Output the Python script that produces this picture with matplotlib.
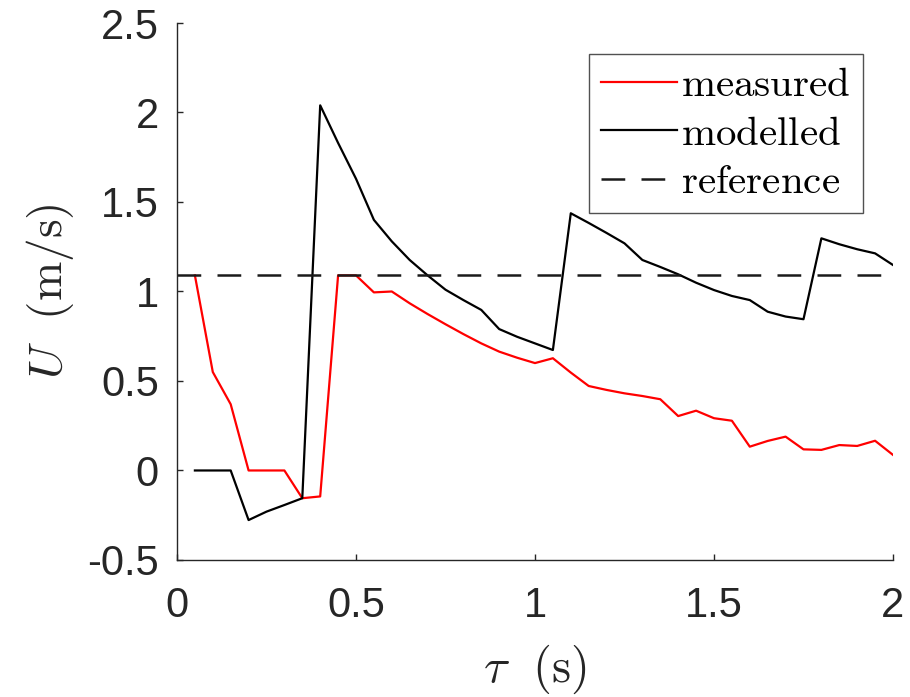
import numpy as np
import matplotlib
matplotlib.use('Agg')
import matplotlib.pyplot as plt

# time axis, 0.05 s steps
tau = [0.05, 0.10, 0.15, 0.20, 0.25, 0.30, 0.35, 0.40, 0.45, 0.50,
       0.55, 0.60, 0.65, 0.70, 0.75, 0.80, 0.85, 0.90, 0.95, 1.00,
       1.05, 1.10, 1.15, 1.20, 1.25, 1.30, 1.35, 1.40, 1.45, 1.50,
       1.55, 1.60, 1.65, 1.70, 1.75, 1.80, 1.85, 1.90, 1.95, 2.00]

measured = [1.09, 0.55, 0.37, 0.00, 0.00, 0.00, -0.155, -0.145, 1.09, 1.09,
            0.995, 1.00, 0.934, 0.874, 0.817, 0.762, 0.71, 0.664, 0.63, 0.60,
            0.627, 0.547, 0.472, 0.45, 0.431, 0.416, 0.398, 0.304, 0.334, 0.292,
            0.278, 0.133, 0.165, 0.189, 0.118, 0.115, 0.142, 0.137, 0.166, 0.087]

modelled = [0.0, 0.0, 0.0, -0.277, -0.23, -0.193, -0.155, 2.04, 1.83, 1.63,
            1.40, 1.28, 1.176, 1.09, 1.01, 0.952, 0.897, 0.79, 0.747, 0.71,
            0.673, 1.437, 1.383, 1.327, 1.269, 1.176, 1.137, 1.096, 1.049, 1.008,
            0.975, 0.952, 0.887, 0.86, 0.845, 1.297, 1.264, 1.236, 1.213, 1.148]

ref_x = [0.0, 2.0]
ref_y = [1.09, 1.09]

xticks = [0, 0.5, 1, 1.5, 2]
xticklabels = ['0', '0.5', '1', '1.5', '2']
yticks = [-0.5, 0, 0.5, 1, 1.5, 2, 2.5]
yticklabels = ['-0.5', '0', '0.5', '1', '1.5', '2', '2.5']

plt.rcParams['mathtext.fontset'] = 'cm'
plt.rcParams['font.family'] = ['Liberation Sans', 'DejaVu Sans']

fig = plt.figure(figsize=(9.1, 6.97), dpi=100)
ax = fig.add_axes([0.1945, 0.1966, 0.7868, 0.7704])

gray = '#262626'
ax.plot(tau, measured, color='red', lw=1.6, label=r'$\mathrm{measured}$')
ax.plot(tau, modelled, color='black', lw=1.6, label=r'$\mathrm{modelled}$')
ax.plot(ref_x, ref_y, color='#1a1a1a', lw=1.8, dashes=(9.5, 6.5),
        label=r'$\mathrm{reference}$')

ax.set_xlim(0, 2)
ax.set_ylim(-0.5, 2.5)
ax.set_xticks(xticks)
ax.set_xticklabels(xticklabels)
ax.set_yticks(yticks)
ax.set_yticklabels(yticklabels)
ax.tick_params(direction='in', length=4, width=1, colors=gray,
               labelsize=30)
ax.tick_params(axis='x', pad=19)
ax.tick_params(axis='y', pad=13)

for side in ['top', 'right']:
    ax.spines[side].set_visible(False)
for side in ['left', 'bottom']:
    ax.spines[side].set_color(gray)
    ax.spines[side].set_linewidth(1.0)

ax.set_xlabel(r'$\tau\ \ (\mathrm{s})$', fontsize=35, color=gray, labelpad=12)
ax.set_ylabel(r'$U\ \ (\mathrm{m/s})$', fontsize=34, color=gray, labelpad=8)

leg = ax.legend(loc='upper right', bbox_to_anchor=(0.958, 0.942),
                borderaxespad=0, fontsize=29.5, handlelength=1.85,
                handletextpad=0.1, labelspacing=0.25, borderpad=0.3,
                fancybox=False, frameon=True)
leg.get_frame().set_edgecolor(gray)
leg.get_frame().set_linewidth(1.0)

fig.savefig('out.png', dpi=100)
